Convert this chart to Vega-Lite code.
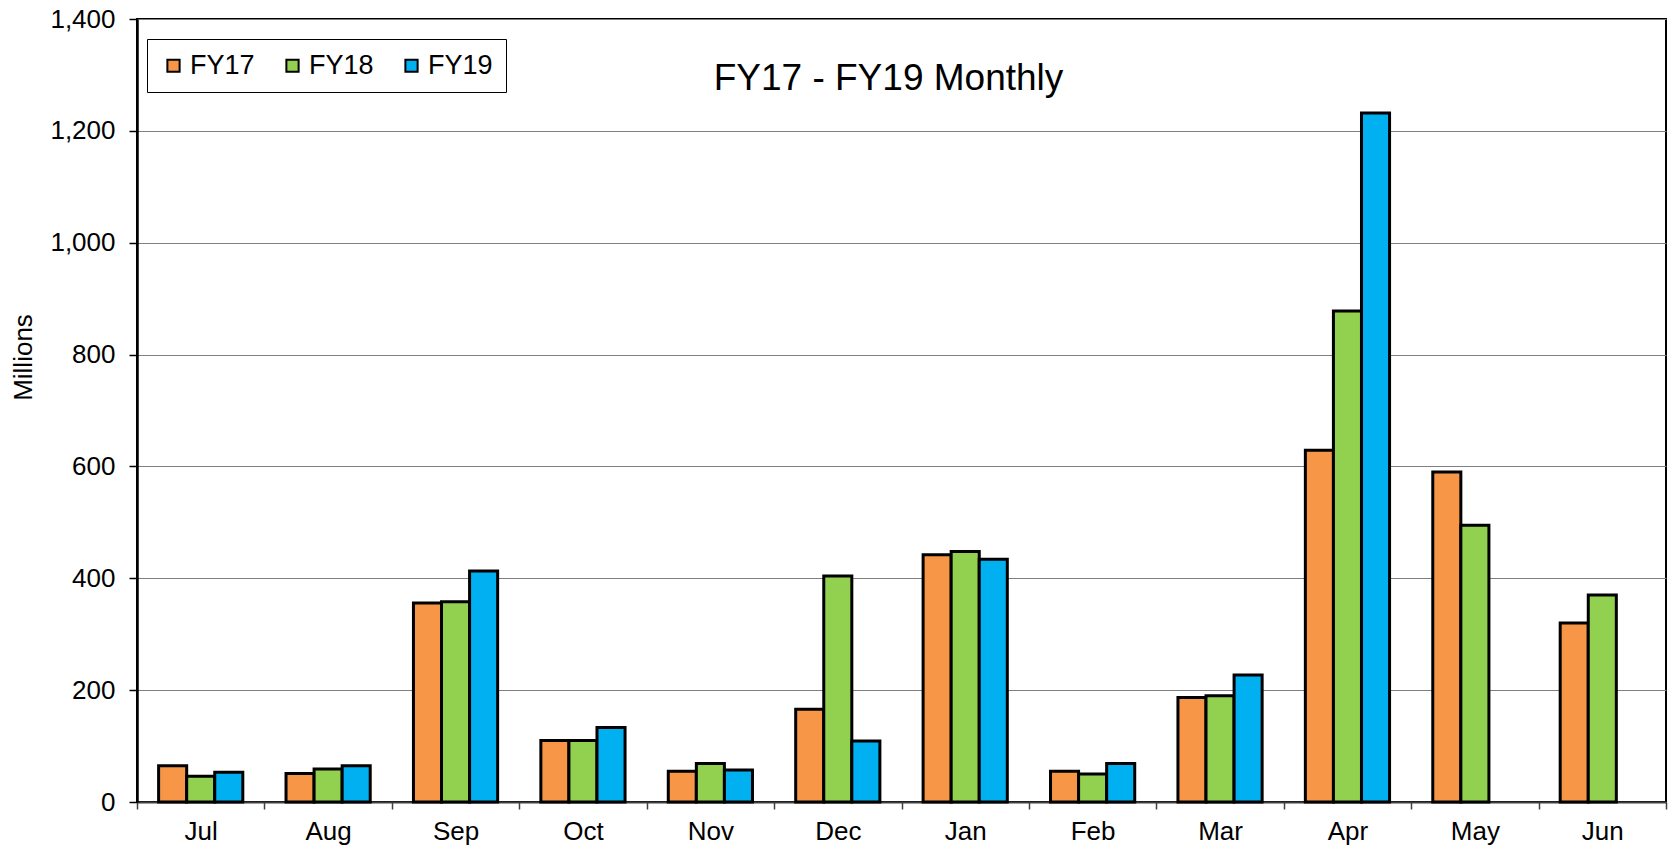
{
  "$schema": "https://vega.github.io/schema/vega-lite/v6.json",
  "width": 1529,
  "height": 783,
  "autosize": {"type": "none"},
  "padding": {"left": 137, "top": 19, "right": 5, "bottom": 47},
  "background": "white",
  "config": {
    "font": "Liberation Sans",
    "view": {"stroke": "black", "strokeWidth": 2}
  },
  "title": {
    "text": "FY17 - FY19 Monthly",
    "font": "Liberation Sans",
    "fontSize": 37,
    "fontWeight": "normal",
    "color": "black",
    "anchor": "middle",
    "baseline": "alphabetic",
    "offset": -72,
    "dx": -13,
    "dy": 49
  },
  "data": {
    "values": [
      {"month": "Jul", "fy": "FY17", "value": 65},
      {"month": "Jul", "fy": "FY18", "value": 46},
      {"month": "Jul", "fy": "FY19", "value": 53},
      {"month": "Aug", "fy": "FY17", "value": 51},
      {"month": "Aug", "fy": "FY18", "value": 59},
      {"month": "Aug", "fy": "FY19", "value": 65},
      {"month": "Sep", "fy": "FY17", "value": 356},
      {"month": "Sep", "fy": "FY18", "value": 358},
      {"month": "Sep", "fy": "FY19", "value": 413},
      {"month": "Oct", "fy": "FY17", "value": 110},
      {"month": "Oct", "fy": "FY18", "value": 110},
      {"month": "Oct", "fy": "FY19", "value": 133},
      {"month": "Nov", "fy": "FY17", "value": 55},
      {"month": "Nov", "fy": "FY18", "value": 69},
      {"month": "Nov", "fy": "FY19", "value": 57},
      {"month": "Dec", "fy": "FY17", "value": 166},
      {"month": "Dec", "fy": "FY18", "value": 404},
      {"month": "Dec", "fy": "FY19", "value": 109},
      {"month": "Jan", "fy": "FY17", "value": 442},
      {"month": "Jan", "fy": "FY18", "value": 448},
      {"month": "Jan", "fy": "FY19", "value": 434},
      {"month": "Feb", "fy": "FY17", "value": 55},
      {"month": "Feb", "fy": "FY18", "value": 50},
      {"month": "Feb", "fy": "FY19", "value": 69},
      {"month": "Mar", "fy": "FY17", "value": 187},
      {"month": "Mar", "fy": "FY18", "value": 190},
      {"month": "Mar", "fy": "FY19", "value": 227},
      {"month": "Apr", "fy": "FY17", "value": 629},
      {"month": "Apr", "fy": "FY18", "value": 878},
      {"month": "Apr", "fy": "FY19", "value": 1232},
      {"month": "May", "fy": "FY17", "value": 590},
      {"month": "May", "fy": "FY18", "value": 495},
      {"month": "Jun", "fy": "FY17", "value": 320},
      {"month": "Jun", "fy": "FY18", "value": 370}
    ]
  },
  "mark": {"type": "bar", "stroke": "black", "strokeWidth": 3},
  "encoding": {
    "x": {
      "field": "month",
      "type": "nominal",
      "sort": ["Jul", "Aug", "Sep", "Oct", "Nov", "Dec", "Jan", "Feb", "Mar", "Apr", "May", "Jun"],
      "scale": {"paddingInner": 0, "paddingOuter": 0},
      "axis": {
        "title": null,
        "labelAngle": 0,
        "labelFont": "Liberation Sans",
        "labelFontSize": 26,
        "labelColor": "black",
        "labelPadding": 9,
        "tickBand": "extent",
        "tickSize": 7,
        "tickColor": "#404040",
        "tickWidth": 1.5,
        "domainColor": "#404040",
        "domainWidth": 2,
        "grid": false
      }
    },
    "xOffset": {
      "field": "fy",
      "type": "nominal",
      "sort": ["FY17", "FY18", "FY19"],
      "scale": {"domain": ["FY17", "FY18", "FY19"], "paddingInner": 0, "paddingOuter": 0.77}
    },
    "y": {
      "field": "value",
      "type": "quantitative",
      "scale": {"domain": [0, 1400], "nice": false},
      "axis": {
        "title": "Millions",
        "titleFont": "Liberation Sans",
        "titleFontSize": 26,
        "titleFontWeight": "normal",
        "titleColor": "black",
        "titleX": -114,
        "titleY": 338,
        "titleAngle": -90,
        "titleAlign": "center",
        "titleBaseline": "middle",
        "values": [0, 200, 400, 600, 800, 1000, 1200, 1400],
        "format": ",d",
        "labelFont": "Liberation Sans",
        "labelFontSize": 26,
        "labelColor": "black",
        "labelPadding": 14,
        "tickSize": 8,
        "tickColor": "black",
        "tickWidth": 1.5,
        "domainColor": "black",
        "domainWidth": 2.5,
        "grid": true,
        "gridColor": "#7f7f7f",
        "gridWidth": 1.2
      }
    },
    "color": {
      "field": "fy",
      "type": "nominal",
      "scale": {"domain": ["FY17", "FY18", "FY19"], "range": ["#F79646", "#92D050", "#00B0F0"]},
      "legend": {
        "title": null,
        "orient": "none",
        "legendX": 10,
        "legendY": 20,
        "direction": "horizontal",
        "symbolType": "square",
        "symbolSize": 150,
        "symbolStrokeColor": "black",
        "symbolStrokeWidth": 2,
        "symbolOpacity": 1,
        "labelFont": "Liberation Sans",
        "labelFontSize": 27,
        "labelColor": "black",
        "labelOffset": 3,
        "columnPadding": 24,
        "padding": 13,
        "strokeColor": "black",
        "fillColor": "white"
      }
    }
  }
}
